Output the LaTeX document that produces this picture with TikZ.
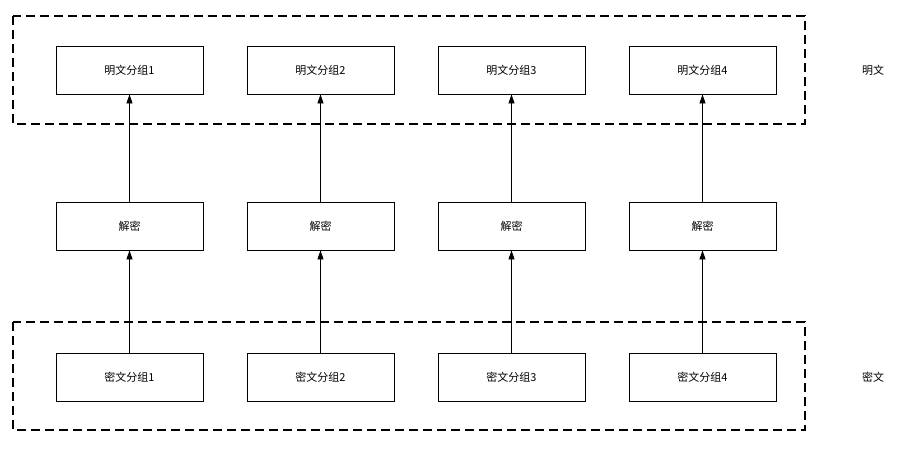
\documentclass[tikz,border=0pt]{standalone}
\usepackage{fontspec}
\setmainfont{Noto Sans CJK SC}
\usetikzlibrary{arrows.meta}
\begin{document}
\begin{tikzpicture}[x=1pt,y=-1pt,
  box/.style={draw,line width=0.8pt,minimum width=147pt,minimum height=48pt,font=\fontsize{11}{13}\selectfont,inner sep=0pt},
  arr/.style={-{Triangle[length=9pt,width=6pt]},line width=0.8pt},
  grp/.style={draw,dashed,line width=1.3pt,dash pattern=on 9pt off 5pt}]
\useasboundingbox (0,0) rectangle (913,451);
\fill[white] (0,0) rectangle (913,451);
\draw[grp] (13,16) rectangle (805,124);
\draw[grp] (13,322) rectangle (805,430);
\foreach \i/\x in {1/129.5,2/320.5,3/511.5,4/702.5}{
  \node[box] (p\i) at (\x,70) {明文分组\i};
  \node[box] (d\i) at (\x,226) {解密};
  \node[box] (c\i) at (\x,377) {密文分组\i};
  \draw[arr] (c\i) -- (d\i);
  \draw[arr] (d\i) -- (p\i);
}
\node[font=\fontsize{11}{13}\selectfont] (lp) at (873,70) {明文};
\node[font=\fontsize{11}{13}\selectfont] (lc) at (873,377) {密文};
\end{tikzpicture}
\end{document}
